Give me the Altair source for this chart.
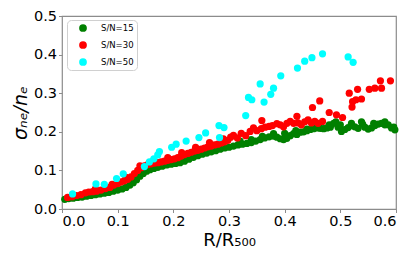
import altair as alt
import pandas as pd

# S/N=15 (green)
green_x = [0.005, 0.012, 0.020, 0.028, 0.036, 0.044, 0.052, 0.060, 0.068, 0.076, 0.084, 0.092, 0.100, 0.108,
           0.115, 0.122, 0.128, 0.134, 0.140, 0.146, 0.152, 0.158, 0.165, 0.172, 0.180, 0.188, 0.196, 0.204,
           0.212, 0.220, 0.228, 0.236, 0.244, 0.252, 0.260, 0.268, 0.276, 0.284, 0.292, 0.300, 0.308, 0.316,
           0.324, 0.332, 0.340, 0.348, 0.356, 0.364, 0.372, 0.380, 0.386, 0.392, 0.398, 0.404, 0.410, 0.416,
           0.422, 0.428, 0.434, 0.440, 0.446, 0.452, 0.458, 0.464, 0.470, 0.476, 0.482, 0.488, 0.492, 0.496,
           0.502, 0.508, 0.514, 0.520, 0.526, 0.532, 0.538, 0.544, 0.550, 0.556, 0.562, 0.568, 0.574, 0.580,
           0.586, 0.592, 0.598,
           0.320, 0.340, 0.360, 0.380, 0.400, 0.420, 0.440, 0.460, 0.480, 0.500, 0.520, 0.540, 0.560, 0.580, 0.596]
green_y = [0.025, 0.027, 0.028, 0.030, 0.031, 0.033, 0.035, 0.037, 0.039, 0.041, 0.043, 0.046, 0.049, 0.052,
           0.056, 0.062, 0.068, 0.076, 0.085, 0.092, 0.098, 0.102, 0.105, 0.108, 0.111, 0.114, 0.116, 0.118,
           0.120, 0.124, 0.129, 0.134, 0.138, 0.142, 0.145, 0.148, 0.151, 0.155, 0.158, 0.160, 0.163, 0.166,
           0.168, 0.170, 0.172, 0.176, 0.180, 0.184, 0.187, 0.189, 0.186, 0.182, 0.180, 0.183, 0.190, 0.195,
           0.193, 0.199, 0.200, 0.203, 0.206, 0.208, 0.210, 0.209, 0.208, 0.210, 0.212, 0.222, 0.226, 0.212,
           0.201, 0.206, 0.211, 0.216, 0.213, 0.209, 0.226, 0.212, 0.207, 0.210, 0.216, 0.220, 0.222, 0.226,
           0.218, 0.210, 0.205,
           0.176, 0.180, 0.188, 0.195, 0.196, 0.203, 0.207, 0.214, 0.218, 0.218, 0.222, 0.220, 0.222, 0.218, 0.212]

# S/N=30 (red)
red_x = [0.010, 0.018, 0.026, 0.034, 0.042, 0.048, 0.055, 0.062, 0.070, 0.078, 0.086, 0.093, 0.100, 0.106,
         0.112, 0.118, 0.124, 0.130, 0.136, 0.142, 0.148, 0.154, 0.160, 0.166, 0.172, 0.178, 0.184, 0.190,
         0.196, 0.202, 0.208, 0.214, 0.220, 0.226, 0.232, 0.238, 0.244, 0.250, 0.256, 0.262, 0.268, 0.274,
         0.280, 0.286, 0.292, 0.298, 0.303, 0.308, 0.315, 0.322, 0.330, 0.338, 0.344, 0.350, 0.358, 0.365,
         0.372, 0.378, 0.386, 0.392, 0.398, 0.404, 0.410, 0.416, 0.422, 0.424, 0.430, 0.436, 0.442, 0.448,
         0.454, 0.460, 0.468, 0.359, 0.450, 0.463, 0.480, 0.493, 0.504, 0.516, 0.531, 0.522, 0.521, 0.528,
         0.538, 0.552, 0.562, 0.574, 0.572, 0.590,
         0.060, 0.090, 0.115, 0.140, 0.165, 0.190, 0.215, 0.240, 0.265, 0.290]
red_y = [0.030, 0.032, 0.035, 0.037, 0.042, 0.044, 0.045, 0.046, 0.049, 0.053, 0.056, 0.062, 0.066, 0.070,
         0.073, 0.077, 0.083, 0.092, 0.100, 0.107, 0.112, 0.115, 0.117, 0.119, 0.120, 0.122, 0.124, 0.126,
         0.128, 0.130, 0.133, 0.137, 0.141, 0.144, 0.147, 0.150, 0.152, 0.155, 0.158, 0.161, 0.163, 0.166,
         0.168, 0.171, 0.174, 0.178, 0.186, 0.191, 0.184, 0.196, 0.190, 0.201, 0.210, 0.203, 0.208, 0.212,
         0.214, 0.216, 0.221, 0.218, 0.213, 0.222, 0.227, 0.222, 0.240, 0.223, 0.218, 0.226, 0.231, 0.223,
         0.227, 0.222, 0.227, 0.229, 0.263, 0.280, 0.250, 0.244, 0.237, 0.300, 0.310, 0.278, 0.264, 0.283,
         0.285, 0.310, 0.313, 0.313, 0.332, 0.332,
         0.052, 0.064, 0.082, 0.112, 0.126, 0.133, 0.146, 0.160, 0.172, 0.182]

# S/N=50 (cyan)
cyan_x = [0.019, 0.061, 0.076, 0.098, 0.110, 0.148, 0.157, 0.165, 0.172, 0.175, 0.197, 0.205, 0.223, 0.246,
          0.258, 0.282, 0.291, 0.283, 0.330, 0.335, 0.341, 0.356, 0.363, 0.375, 0.380, 0.393, 0.423, 0.436,
          0.449, 0.468, 0.514, 0.523]
cyan_y = [0.039, 0.065, 0.064, 0.079, 0.091, 0.110, 0.122, 0.130, 0.140, 0.149, 0.160, 0.168, 0.176, 0.185,
          0.197, 0.216, 0.211, 0.185, 0.242, 0.289, 0.283, 0.324, 0.277, 0.297, 0.313, 0.345, 0.365, 0.383,
          0.392, 0.402, 0.394, 0.380]

labels = ["S/N=15", "S/N=30", "S/N=50"]
colors = ["green", "red", "cyan"]

rows = []
for lab, xs, ys in zip(labels, [green_x, red_x, cyan_x], [green_y, red_y, cyan_y]):
    for a, b in zip(xs, ys):
        rows.append({"r": a, "s": b, "series": lab})
df = pd.DataFrame(rows)
df["ord"] = range(len(df))

chart = alt.Chart(df).mark_point(filled=True, opacity=1, size=52, shape="circle").encode(
    x=alt.X("r:Q", scale=alt.Scale(domain=[0, 0.6], nice=False),
            axis=alt.Axis(title="R/R₅₀₀", values=[0, 0.1, 0.2, 0.3, 0.4, 0.5, 0.6], format=".1f",
                          titlePadding=3, titleFontSize=18)),
    y=alt.Y("s:Q", scale=alt.Scale(domain=[0, 0.5], nice=False),
            axis=alt.Axis(title="σₙₑ/nₑ", values=[0, 0.1, 0.2, 0.3, 0.4, 0.5], format=".1f",
                          titleFontStyle="italic", titlePadding=3, titleFontSize=19)),
    color=alt.Color("series:N", scale=alt.Scale(domain=labels, range=colors),
                    legend=alt.Legend(title=None, orient="none", legendX=5, legendY=4,
                                      symbolType="circle", symbolSize=60, labelFontSize=8.5,
                                      labelFont="DejaVu Sans", strokeColor="#d0d0d0", cornerRadius=4,
                                      padding=3, rowPadding=7, symbolOffset=8, labelOffset=13,
                                      fillColor="white")),
    order=alt.Order("ord:Q"),
).properties(
    width=334, height=193,
    autosize=alt.AutoSizeParams(type="none"),
    padding={"left": 54, "top": 8, "right": 11, "bottom": 44},
).configure_view(
    stroke="#8c8c8c", strokeWidth=1.2
).configure_axis(
    grid=False, domain=False, tickColor="#8c8c8c", tickSize=3.5,
    labelFont="DejaVu Sans", labelFontSize=14.5, labelColor="black", labelPadding=2,
    titleFont="DejaVu Sans", titleFontWeight="normal", titleColor="black",
)

chart.save("out.html", embed_options={"renderer": "svg", "actions": False})
